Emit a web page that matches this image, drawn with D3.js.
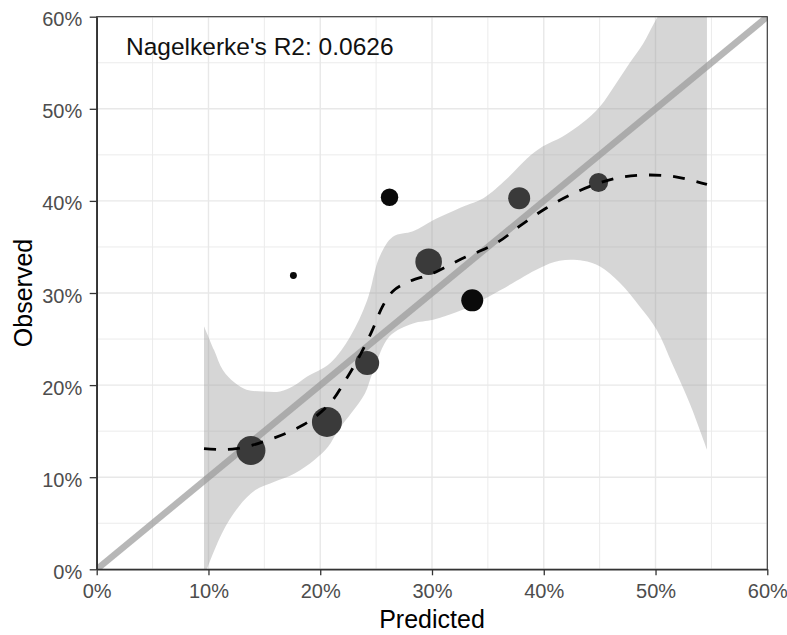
<!DOCTYPE html>
<html>
<head>
<meta charset="utf-8">
<script src="https://cdn.jsdelivr.net/npm/d3@7"></script>
<style>
  body { margin: 0; background: #ffffff; }
  svg { display: block; font-family: "Liberation Sans", Arial, sans-serif; }
</style>
</head>
<body>
<div class="graph"></div>
<script>

	// observed vs predicted per group (percent), point size ~ group n
	var predicted = [13.8, 17.6, 20.6, 24.2, 26.2, 29.7, 33.6, 37.8, 44.9];
	var observed  = [12.9, 31.9, 16.0, 22.4, 40.4, 33.4, 29.2, 40.3, 42.0];
	var groupN    = [210, 12, 225, 144, 76, 177, 121, 121, 92];
	var darkGroups = [1, 4, 6];

	// loess smooth + its confidence band
	var smoothX  = [9.6, 11, 12.5, 14, 15.5, 17, 18.5, 19.5, 21, 22.3, 23.5, 24.6, 25.6, 26.5, 27.5, 28.5, 29.6, 30.7, 31.8, 33, 34, 36, 38, 40.2, 42.3, 44.4, 46.6, 48.9, 51.3, 53, 54.6];
	var smoothY  = [13.1, 13.0, 13.1, 13.5, 14.1, 14.8, 15.7, 16.5, 18.2, 20.6, 23.1, 25.8, 28.6, 30.2, 31.0, 31.5, 31.9, 32.5, 33.2, 33.9, 34.4, 35.6, 37.4, 39.2, 40.6, 41.7, 42.5, 42.8, 42.7, 42.3, 41.8];

	var upperX = [9.6, 10.5, 11.3, 12.3, 13.4, 14.9, 16.4, 17.6, 18.8, 20.9, 22.7, 24.2, 25.3, 26.5, 28.3, 30.1, 32.8, 34.6, 36.7, 38.5, 39.9, 41.7, 43.5, 45.0, 46.5, 47.7, 48.9, 50.0, 51.5, 53, 54.6];
	var upperY = [26.4, 23.8, 21.6, 20.3, 19.5, 19.3, 19.3, 19.9, 20.9, 22.4, 25.3, 29.2, 33.9, 36.1, 36.7, 37.9, 39.4, 40.3, 42.4, 44.6, 45.9, 47.0, 48.5, 50.2, 52.8, 55.0, 57.1, 59.6, 62.5, 65.5, 68.5];
	var lowerX = [9.6, 11.2, 12.7, 14.2, 15.9, 17.7, 19.5, 20.7, 21.6, 22.8, 24.0, 24.7, 26.2, 28.3, 30.1, 32.8, 36.1, 39.6, 41.4, 43.5, 45.0, 46.8, 48.6, 50.1, 51.5, 53.1, 54.6];
	var lowerY = [-0.8, 3.9, 6.8, 8.6, 9.5, 10.4, 11.9, 13.3, 15.1, 17.0, 19.1, 21.4, 25.3, 26.7, 27.1, 28.2, 30.3, 32.7, 33.5, 33.5, 32.9, 31.1, 28.5, 26.0, 22.3, 17.9, 13.0];

	var tickVals  = [0, 10, 20, 30, 40, 50, 60];
	var minorVals = [5, 15, 25, 35, 45, 55];
	var r2Label = "Nagelkerke's R2: 0.0626";

	var W = 787, H = 635;
	var margin = {top: 16.7, right: 19.7, bottom: 65.7, left: 96.7};

	var svg = d3.select(".graph")
		.append("svg")
		.attr("width", W)
		.attr("height", H);

	var x = d3.scaleLinear().domain([0, 60]).range([margin.left, W - margin.right]);
	var y = d3.scaleLinear().domain([0, 60]).range([H - margin.bottom, margin.top]);
	var rScale = d3.scaleSqrt().domain([0, 225]).range([0, 15]);

	svg.append("clipPath").attr("id", "panel")
		.append("rect")
		.attr("x", x(0)).attr("y", y(60))
		.attr("width", x(60) - x(0)).attr("height", y(0) - y(60));

	// grid lines
	var grid = svg.append("g");
	grid.selectAll(".vminor").data(minorVals).enter().append("line")
		.attr("x1", d => x(d)).attr("x2", d => x(d))
		.attr("y1", y(0)).attr("y2", y(60))
		.attr("stroke", "#ebebeb").attr("stroke-width", 1);
	grid.selectAll(".hminor").data(minorVals).enter().append("line")
		.attr("y1", d => y(d)).attr("y2", d => y(d))
		.attr("x1", x(0)).attr("x2", x(60))
		.attr("stroke", "#ebebeb").attr("stroke-width", 1);
	grid.selectAll(".vmajor").data(tickVals).enter().append("line")
		.attr("x1", d => x(d)).attr("x2", d => x(d))
		.attr("y1", y(0)).attr("y2", y(60))
		.attr("stroke", "#e8e8e8").attr("stroke-width", 1.4);
	grid.selectAll(".hmajor").data(tickVals).enter().append("line")
		.attr("y1", d => y(d)).attr("y2", d => y(d))
		.attr("x1", x(0)).attr("x2", x(60))
		.attr("stroke", "#e8e8e8").attr("stroke-width", 1.4);

	var plot = svg.append("g").attr("clip-path", "url(#panel)");

	// confidence band: upper edge forward, lower edge back
	var band = d3.line().x(d => x(d[0])).y(d => y(d[1])).curve(d3.curveCatmullRom);
	var upperPts = upperX.map((v, i) => [v, upperY[i]]);
	var lowerPts = lowerX.map((v, i) => [v, lowerY[i]]).reverse();
	plot.append("path")
		.attr("d", band(upperPts) + "L" + band(lowerPts).slice(1) + "Z")
		.attr("fill", "#999999")
		.attr("fill-opacity", 0.4);

	// perfect calibration line
	plot.append("line")
		.attr("x1", x(0)).attr("y1", y(0))
		.attr("x2", x(60)).attr("y2", y(60))
		.attr("stroke", "#999999")
		.attr("stroke-opacity", 0.7)
		.attr("stroke-width", 6.5);

	// groups
	plot.selectAll("circle")
		.data(predicted)
		.enter()
		.append("circle")
		.attr("cx", d => x(d))
		.attr("cy", (d, i) => y(observed[i]))
		.attr("r", (d, i) => rScale(groupN[i]))
		.attr("fill", (d, i) => darkGroups.indexOf(i) >= 0 ? "#0a0a0a" : "#3a3a3a");

	// loess
	plot.append("path")
		.datum(smoothX.map((v, i) => [v, smoothY[i]]))
		.attr("d", d3.line().x(d => x(d[0])).y(d => y(d[1])).curve(d3.curveCatmullRom))
		.attr("fill", "none")
		.attr("stroke", "#000000")
		.attr("stroke-width", 2.8)
		.attr("stroke-dasharray", "12,12");

	// panel border
	svg.append("rect")
		.attr("x", x(0)).attr("y", y(60))
		.attr("width", x(60) - x(0)).attr("height", y(0) - y(60))
		.attr("fill", "none")
		.attr("stroke", "#333333")
		.attr("stroke-width", 1.1);

	// axes
	var xAxis = svg.append("g")
		.attr("transform", "translate(0," + y(0) + ")")
		.call(d3.axisBottom(x).tickValues(tickVals).tickFormat(d => d + "%").tickSize(6).tickSizeOuter(0).tickPadding(8.5));
	var yAxis = svg.append("g")
		.attr("transform", "translate(" + x(0) + ",0)")
		.call(d3.axisLeft(y).tickValues(tickVals).tickFormat(d => d + "%").tickSize(7).tickSizeOuter(0).tickPadding(7.5));

	[xAxis, yAxis].forEach(function(a){
		a.select(".domain").attr("stroke", "#333333").attr("stroke-width", 1.6);
		a.selectAll(".tick line").attr("stroke", "#333333").attr("stroke-width", 1.3);
		a.selectAll(".tick text")
			.attr("fill", "#4d4d4d")
			.attr("font-size", "20px")
			.attr("font-family", "Liberation Sans, Arial, sans-serif");
	});
	yAxis.selectAll(".tick text").attr("dy", "0.45em");

	// titles
	svg.append("text")
		.attr("x", (x(0) + x(60)) / 2)
		.attr("y", 628)
		.attr("text-anchor", "middle")
		.attr("font-size", "25px")
		.attr("fill", "#000000")
		.text("Predicted");

	svg.append("text")
		.attr("transform", "rotate(-90)")
		.attr("x", -(y(0) + y(60)) / 2)
		.attr("y", 31.5)
		.attr("text-anchor", "middle")
		.attr("font-size", "25px")
		.attr("fill", "#000000")
		.text("Observed");

	svg.append("text")
		.attr("x", 126)
		.attr("y", 55)
		.attr("font-size", "24.5px")
		.attr("fill", "#111111")
		.text(r2Label);

</script>
</body>
</html>
